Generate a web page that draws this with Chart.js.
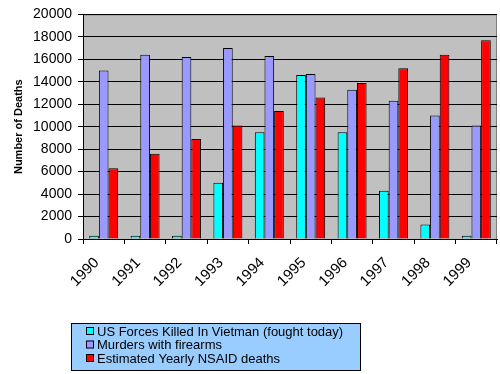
<!DOCTYPE html>
<html>
<head>
<meta charset="utf-8">
<script src="https://cdn.jsdelivr.net/npm/chart.js@4.4.1/dist/chart.umd.min.js"></script>
<style>
  body { margin: 0; background: #fff; }
  #wrap { width: 500px; height: 374px; }
</style>
</head>
<body>
<div id="wrap"><canvas id="deathsChart" width="500" height="374"></canvas></div>
<script>
// Data
const years = ['1990', '1991', '1992', '1993', '1994', '1995', '1996', '1997', '1998', '1999'];
const vietnamDeaths = [300, 300, 300, 5000, 9500, 14600, 9500, 4300, 1300, 300];
const firearmMurders = [15000, 16400, 16200, 17000, 16300, 14700, 13300, 12300, 11000, 10100];
const nsaidDeaths = [6300, 7600, 8900, 10100, 11400, 12600, 13900, 15200, 16400, 17700];
const seriesNames = ['US Forces Killed In Vietman (fought today)', 'Murders with firearms', 'Estimated Yearly NSAID deaths'];
const seriesColors = ['#00FFFF', '#9999FF', '#FF0000'];

const FONT = 'Arial, "Liberation Sans", sans-serif';

// Gray plot background
const plotBg = {
    id: 'plotBg',
    beforeDraw(chart) {
        const a = chart.chartArea;
        const c = chart.ctx;
        c.save();
        c.fillStyle = '#C0C0C0';
        c.fillRect(a.left, a.top, a.right - a.left, a.bottom - a.top);
        c.strokeStyle = '#808080';
        c.lineWidth = 1;
        c.strokeRect(a.left + 0.5, a.top + 0.5, a.right - a.left - 1, a.bottom - a.top);
        c.restore();
    }
};

// Boxed legend below the chart
const boxLegend = {
    id: 'boxLegend',
    afterDraw(chart) {
        const c = chart.ctx;
        c.save();
        c.fillStyle = '#99CCFF';
        c.fillRect(71, 323, 289, 48);
        c.strokeStyle = '#000';
        c.lineWidth = 1;
        c.strokeRect(71.5, 323.5, 289, 47);
        c.font = '13px ' + FONT;
        c.textBaseline = 'middle';
        chart.data.datasets.forEach((ds, i) => {
            const y = 331 + i * 13.5;
            c.fillStyle = ds.backgroundColor;
            c.fillRect(86, y - 4, 8, 8);
            c.strokeStyle = '#000';
            c.strokeRect(86.5, y - 3.5, 7, 7);
            c.fillStyle = '#000';
            c.fillText(ds.label, 97, y + 1);
        });
        c.restore();
    }
};

const ctx = document.getElementById('deathsChart').getContext('2d');
new Chart(ctx, {
    type: 'bar',
    data: {
        labels: years,
        datasets: [
            { label: seriesNames[0], data: vietnamDeaths, backgroundColor: seriesColors[0] },
            { label: seriesNames[1], data: firearmMurders, backgroundColor: seriesColors[1] },
            { label: seriesNames[2], data: nsaidDeaths, backgroundColor: seriesColors[2] }
        ].map(d => Object.assign(d, { borderColor: '#000', borderWidth: 1, borderSkipped: 'bottom' }))
    },
    options: {
        responsive: false,
        animation: false,
        devicePixelRatio: 1,
        layout: { padding: { left: 0, right: 3, top: 6, bottom: 0 } },
        datasets: { bar: { categoryPercentage: 0.7, barPercentage: 1.0 } },
        plugins: {
            legend: { display: false },
            tooltip: { enabled: false }
        },
        scales: {
            x: {
                grid: { display: true, drawOnChartArea: false, color: '#000', tickLength: 5, offset: true },
                border: { color: '#000' },
                ticks: { color: '#000', font: { family: FONT, size: 15 }, minRotation: 45, maxRotation: 45, padding: 10, labelOffset: -7 },
                title: { display: true, text: 'Year', color: '#000', font: { family: FONT, size: 12, weight: 'bold' }, padding: { top: 7, bottom: 0 } },
                afterFit(scale) { scale.height = 135; }
            },
            y: {
                min: 0,
                max: 20000,
                grid: { color: '#000', tickLength: 5 },
                border: { color: '#000' },
                ticks: { stepSize: 2000, color: '#000', font: { family: FONT, size: 14 }, padding: 6, callback: v => String(v) },
                title: { display: true, text: 'Number of Deaths', color: '#000', font: { family: FONT, size: 11, weight: 'bold' }, padding: { top: 12, bottom: 4 } },
                afterFit(scale) { scale.width = 83; }
            }
        }
    },
    plugins: [plotBg, boxLegend]
});
</script>
</body>
</html>
